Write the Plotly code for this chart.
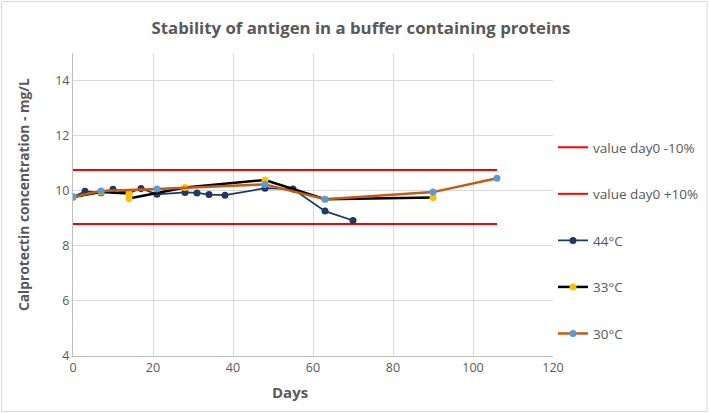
import plotly.graph_objects as go

# Data
days_44 = [0, 3, 7, 10, 14, 17, 21, 28, 31, 34, 38, 48, 55, 63, 70]
vals_44 = [9.77, 9.98, 9.93, 10.05, 9.92, 10.08, 9.87, 9.94, 9.92, 9.86, 9.84, 10.09, 10.06, 9.26, 8.92]

days_33 = [0, 7, 14, 14, 28, 48, 63, 90]
vals_33 = [9.77, 9.95, 9.9, 9.72, 10.12, 10.39, 9.69, 9.75]

days_30 = [0, 7, 21, 48, 63, 90, 106]
vals_30 = [9.77, 9.99, 10.06, 10.23, 9.69, 9.95, 10.45]

limit_days = [0, 106]
lower_limit = [8.79, 8.79]   # value day0 -10%
upper_limit = [10.75, 10.75]  # value day0 +10%

FONT = "Open Sans"
GREY = "#595959"

L, R, T, B = 73, 156, 53, 57
W, H = 709, 413
PW, PH = W - L - R, H - T - B


def px_x(p):
    return (p - L) / PW


def px_y(p):
    return (H - B - p) / PH


fig = go.Figure()

fig.add_trace(go.Scatter(x=limit_days, y=upper_limit, mode="lines",
                         name="value day0 -10%", legendgroup="a",
                         line=dict(color="#FF0000", width=2)))
fig.add_trace(go.Scatter(x=limit_days, y=lower_limit, mode="lines",
                         name="value day0 +10%", legendgroup="b",
                         line=dict(color="#FF0000", width=2)))
fig.add_trace(go.Scatter(x=days_44, y=vals_44, mode="lines+markers",
                         name="44°C", legendgroup="c",
                         line=dict(color="#203864", width=1.75),
                         marker=dict(color="#203864", size=7)))
fig.add_trace(go.Scatter(x=days_33, y=vals_33, mode="lines+markers",
                         name="33°C", legendgroup="d",
                         line=dict(color="#000000", width=2.5),
                         marker=dict(color="#FFC000", size=7)))
fig.add_trace(go.Scatter(x=days_30, y=vals_30, mode="lines+markers",
                         name="30°C", legendgroup="e",
                         line=dict(color="#C55A11", width=2.5),
                         marker=dict(color="#5B9BD5", size=7)))

fig.update_layout(
    width=W, height=H,
    margin=dict(l=L, r=R, t=T, b=B, autoexpand=False),
    paper_bgcolor="white", plot_bgcolor="white",
    font=dict(family=FONT, color=GREY, size=12),
    title=dict(text="<b>Stability of antigen in a buffer containing proteins</b>",
               x=361 / W, xanchor="center", xref="container",
               y=1 - 28 / H, yanchor="middle", yref="container", automargin=False,
               font=dict(size=16.8, color=GREY, family=FONT)),
    xaxis=dict(range=[0, 120], dtick=20, tick0=0, automargin=False,
               showgrid=True, gridcolor="#D9D9D9", gridwidth=1,
               showline=True, linecolor="#BFBFBF", linewidth=1,
               zeroline=False, ticks="",
               tickfont=dict(size=12.5, color=GREY)),
    yaxis=dict(range=[4, 15], dtick=2, tick0=4, automargin=False,
               showgrid=True, gridcolor="#D9D9D9", gridwidth=1,
               showline=True, linecolor="#BFBFBF", linewidth=1,
               zeroline=False, ticks="",
               tickfont=dict(size=12.5, color=GREY)),
    legend=dict(x=1.0, xanchor="left", y=px_y(132), yanchor="top",
                font=dict(size=13.5, color=GREY, family=FONT),
                tracegroupgap=26, itemwidth=30, bgcolor="rgba(0,0,0,0)"),
    annotations=[
        dict(text="<b>Days</b>", xref="paper", yref="paper",
             x=px_x(290), y=px_y(392), xanchor="center", yanchor="middle",
             showarrow=False, font=dict(size=15, color=GREY, family=FONT)),
        dict(text="<b>Calprotectin concentration - mg/L</b>", xref="paper", yref="paper",
             x=px_x(23), y=px_y(195), xanchor="center", yanchor="middle",
             textangle=-90, showarrow=False,
             font=dict(size=13.8, color=GREY, family=FONT)),
    ],
    shapes=[dict(type="rect", xref="paper", yref="paper",
                 x0=px_x(1.5), x1=px_x(707), y0=px_y(411.5), y1=px_y(1.5),
                 line=dict(color="#D9D9D9", width=1), layer="below")],
)

fig.write_html("out.html", config={"displayModeBar": False},
               post_script="document.body.style.margin='0';")
